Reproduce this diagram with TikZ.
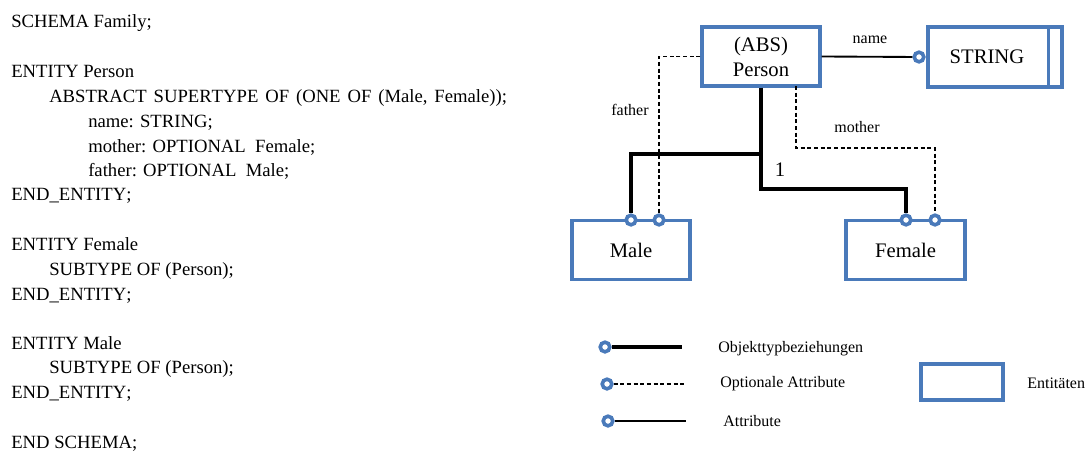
\documentclass[tikz,border=0pt]{standalone}
\usepackage{fontspec}
\setmainfont[Kerning=Off]{Liberation Serif}
\usetikzlibrary{calc}
\definecolor{entblue}{RGB}{74,122,186}
\begin{document}
\begin{tikzpicture}[x=0.75pt,y=-0.75pt,
  code/.style={anchor=base west, inner sep=0pt, font=\fontsize{14}{17}\selectfont},
  entity/.style={draw=entblue, line width=2.6pt, inner sep=0pt, fill=white,
    font=\fontsize{15.5}{18.75}\selectfont, align=center},
  lbl/.style={font=\fontsize{12}{14}\selectfont, inner sep=0pt},
  legtext/.style={font=\fontsize{12}{14}\selectfont, inner sep=0pt, anchor=west},
  port/.style={circle, draw=entblue, fill=white, line width=2.7pt, minimum size=7.2pt, inner sep=0pt},
  rel/.style={line width=3.3pt},
  opt/.style={line width=1pt, dash pattern=on 3pt off 2pt},
  attr/.style={line width=1.4pt},
]
\useasboundingbox (0,0) rectangle (1089,450);

% EXPRESS schema listing
\node[code] (l1)  at (11,27)  {SCHEMA Family;};
\node[code] (l2)  at (11,77)  {ENTITY Person};
\node[code] (l3)  at (49,102) {\spaceskip=0.37em ABSTRACT SUPERTYPE OF (ONE OF (Male, Female));};
\node[code] (l4)  at (88,127) {name: STRING;};
\node[code] (l5)  at (88,152) {mother: OPTIONAL\ \ Female;};
\node[code] (l6)  at (88,176) {father: OPTIONAL\ \ Male;};
\node[code] (l7)  at (11,200) {END\_ENTITY;};
\node[code] (l8)  at (11,250) {ENTITY Female};
\node[code] (l9)  at (49,275) {SUBTYPE OF (Person);};
\node[code] (l10) at (11,300) {END\_ENTITY;};
\node[code] (l11) at (11,349) {ENTITY Male};
\node[code] (l12) at (49,373) {SUBTYPE OF (Person);};
\node[code] (l13) at (11,398) {END\_ENTITY;};
\node[code] (l14) at (11,448) {END SCHEMA;};

% entities
\node[entity, minimum width=88.5pt, minimum height=44.25pt] (person) at (761,56.5) {(ABS)\\Person};
\node[entity, minimum width=100.5pt, minimum height=45pt] (string) at (995,57) {};
\draw[entblue, line width=2.6pt] ($(string.north east)+(-15,1.5)$) coordinate (sn)
  -- ($(string.south east)+(-15,-1.5)$) coordinate (ss);
\node[inner sep=0pt, font=\fontsize{15.5}{18.75}\selectfont] (stringtext) at (987,57) {STRING};
\node[entity, minimum width=88.5pt, minimum height=44.25pt] (male) at (631,250) {Male};
\node[entity, minimum width=89.25pt, minimum height=44.25pt] (female) at (905.5,250) {Female};

% ports
\node[port] (mc1) at (631,220) {};
\node[port] (mc2) at (659,220) {};
\node[port] (fc1) at (906,220) {};
\node[port] (fc2) at (935,220) {};
\node[port] (sc)  at (919,57) {};

% supertype/subtype relation
\coordinate (j1) at (761,154);
\coordinate (j2) at (761,189);
\draw[rel] (person.south) -- (j1) -| (mc1);
\draw[rel] (j1) -- (j2) -| (fc1);
\node[inner sep=0pt, font=\fontsize{15.5}{18.75}\selectfont] (one) at (780,170) {1};

% attributes
\draw[attr] (person.east) -- (sc);
\node[lbl] (namelbl) at (870,40) {name};
\draw[opt] (person.west) -| (mc2);
\node[lbl] (fatherlbl) at (630,110) {father};
\coordinate (m0) at (796,86);
\coordinate (m1) at (796,148);
\draw[opt] (m0) -- (m1) -| (fc2);
\node[lbl] (motherlbl) at (857,127) {mother};

% legend
\node[port] (lc1) at (605,347) {};
\node[port] (lc2) at (607,384) {};
\node[port] (lc3) at (608,421) {};
\coordinate (le1) at (682,347);
\coordinate (le2) at (685,384);
\coordinate (le3) at (686,421);
\draw[rel] (lc1) -- (le1);
\draw[opt] (lc2) -- (le2);
\draw[attr] (lc3) -- (le3);
\node[legtext] (t1) at (718,349) {Objekttypbeziehungen};
\node[legtext] (t2) at (720,384) {Optionale Attribute};
\node[legtext] (t3) at (723,421) {Attribute};
\node[entity, minimum width=61.5pt, minimum height=27pt] (legent) at (962,382) {};
\node[legtext] (t4) at (1027,383) {Entitäten};
\end{tikzpicture}
\end{document}
